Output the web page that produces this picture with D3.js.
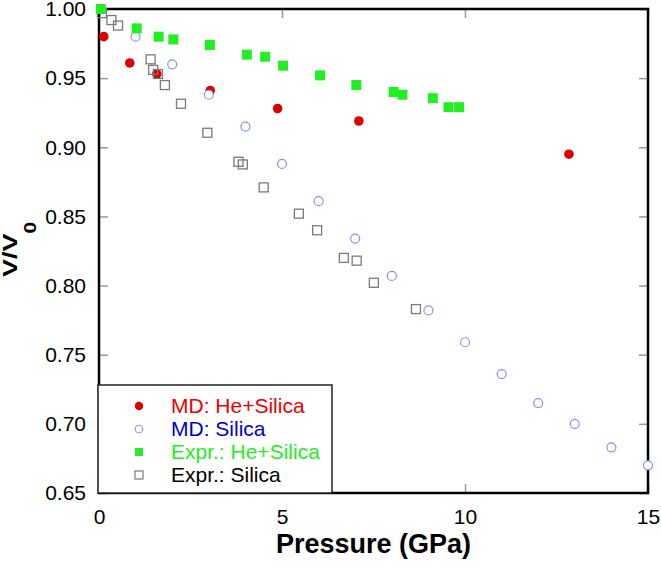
<!DOCTYPE html>
<html>
<head>
<meta charset="utf-8">
<script src="https://cdn.jsdelivr.net/npm/d3@7"></script>
<style>
  body { margin: 0; background: #fff; }
  text { font-family: "Liberation Sans", Arial, sans-serif; }
</style>
</head>
<body>
<div id="chart"></div>
<script>
// MD: He+Silica
var mdHePressure = [0.13, 0.84, 1.58, 3.04, 4.88, 7.10, 12.84];
var mdHeVolume   = [0.980, 0.961, 0.953, 0.941, 0.928, 0.919, 0.895];

// MD: Silica
var mdSiPressure = [1, 2, 3, 4, 5, 6, 7, 8, 9, 10, 11, 12, 13, 14, 15];
var mdSiVolume   = [0.980, 0.960, 0.938, 0.915, 0.888, 0.861, 0.834, 0.807, 0.782, 0.759, 0.736, 0.715, 0.700, 0.683, 0.670];

// Expr.: He+Silica
var exHePressure = [0.05, 1.03, 1.63, 2.03, 3.03, 4.04, 4.54, 5.03, 6.04, 7.03, 8.05, 8.29, 9.12, 9.55, 9.84];
var exHeVolume   = [1.000, 0.986, 0.980, 0.978, 0.974, 0.967, 0.9655, 0.959, 0.952, 0.945, 0.940, 0.938, 0.9355, 0.929, 0.929];

// Expr.: Silica
var exSiPressure = [0.08, 0.34, 0.52, 1.41, 1.48, 1.61, 1.80, 2.24, 2.96, 3.81, 3.93, 4.50, 5.46, 5.96, 6.69, 7.04, 7.51, 8.66];
var exSiVolume   = [0.997, 0.992, 0.988, 0.9636, 0.956, 0.953, 0.945, 0.9315, 0.9105, 0.8895, 0.8876, 0.871, 0.852, 0.840, 0.820, 0.818, 0.802, 0.783];

var xTicks = [0, 5, 10, 15];
var yTicks = [0.65, 0.70, 0.75, 0.80, 0.85, 0.90, 0.95, 1.00];

var legendLabels = ["MD: He+Silica", "MD: Silica", "Expr.: He+Silica", "Expr.: Silica"];

(function(){

  var width = 661,
      height = 570,
      margin = {top: 9, right: 13, bottom: 77, left: 99},
      chartWidth = width - margin.left - margin.right,
      chartHeight = height - margin.top - margin.bottom;

  function pairs(px, vy) {
    return px.map(function(p, i) { return {x: p, y: vy[i]}; });
  }

  var svg = d3.select("#chart").append("svg")
      .attr("width", width)
      .attr("height", height);

  var chart = svg.append("g")
      .attr("transform", "translate(" + margin.left + "," + margin.top + ")");

  var x = d3.scaleLinear().domain([0, 15]).range([0, chartWidth]);
  var y = d3.scaleLinear().domain([0.65, 1.0]).range([chartHeight, 0]);

  var fmt = d3.format(".2f");

  // inward ticks on all four sides
  chart.append("g")
      .attr("class", "axis")
      .call(d3.axisLeft(y).tickValues(yTicks).tickFormat(fmt).tickSize(-9).tickPadding(13));

  chart.append("g")
      .attr("class", "axis")
      .attr("transform", "translate(" + chartWidth + ",0)")
      .call(d3.axisRight(y).tickValues(yTicks).tickFormat("").tickSize(-9));

  chart.append("g")
      .attr("class", "axis")
      .attr("transform", "translate(0," + chartHeight + ")")
      .call(d3.axisBottom(x).tickValues(xTicks).tickFormat(d3.format("d")).tickSize(-9).tickPadding(16));

  chart.append("g")
      .attr("class", "axis")
      .call(d3.axisTop(x).tickValues(xTicks).tickFormat("").tickSize(-9));

  chart.selectAll(".axis .domain").remove();
  chart.selectAll(".axis line").attr("stroke", "#999").attr("stroke-width", 1.5);
  chart.selectAll(".axis text")
      .attr("fill", "#000")
      .style("font-size", "21px")
      .style("font-family", "'Liberation Sans', Arial, sans-serif");

  // frame
  chart.append("rect")
      .attr("width", chartWidth)
      .attr("height", chartHeight)
      .attr("fill", "none")
      .attr("stroke", "#000")
      .attr("stroke-width", 2.5);

  // points
  chart.selectAll("circle.mdHe")
      .data(pairs(mdHePressure, mdHeVolume))
      .enter().append("circle")
      .attr("class", "mdHe")
      .attr("cx", function(d) { return x(d.x); })
      .attr("cy", function(d) { return y(d.y); })
      .attr("r", 4.8)
      .attr("fill", "#dd0000");

  chart.selectAll("circle.mdSi")
      .data(pairs(mdSiPressure, mdSiVolume))
      .enter().append("circle")
      .attr("class", "mdSi")
      .attr("cx", function(d) { return x(d.x); })
      .attr("cy", function(d) { return y(d.y); })
      .attr("r", 4.5)
      .attr("fill", "#fff")
      .attr("stroke", "#8c8cff")
      .attr("stroke-width", 1.2);

  var sq = 9;

  chart.selectAll("rect.exSi")
      .data(pairs(exSiPressure, exSiVolume))
      .enter().append("rect")
      .attr("class", "exSi")
      .attr("x", function(d) { return x(d.x) - sq / 2; })
      .attr("y", function(d) { return y(d.y) - sq / 2; })
      .attr("width", sq)
      .attr("height", sq)
      .attr("fill", "none")
      .attr("stroke", "#7a7a7a")
      .attr("stroke-width", 1.3);

  chart.selectAll("rect.exHe")
      .data(pairs(exHePressure, exHeVolume))
      .enter().append("rect")
      .attr("class", "exHe")
      .attr("x", function(d) { return x(d.x) - 5; })
      .attr("y", function(d) { return y(d.y) - 5; })
      .attr("width", 10)
      .attr("height", 10)
      .attr("fill", "#22ee22");

  // legend
  var legend = svg.append("g").attr("transform", "translate(98,385)");

  legend.append("rect")
      .attr("width", 234)
      .attr("height", 108)
      .attr("fill", "#fff")
      .attr("stroke", "#222")
      .attr("stroke-width", 1.5);

  var rowY = [21, 44, 67, 90],
      textColors = ["#ee0000", "#0000cc", "#22ee22", "#000"];

  legend.append("circle").attr("cx", 41).attr("cy", rowY[0]).attr("r", 4.2).attr("fill", "#dd0000");
  legend.append("circle").attr("cx", 41).attr("cy", rowY[1]).attr("r", 3.8)
      .attr("fill", "#fff").attr("stroke", "#8c8cff").attr("stroke-width", 1.1);
  legend.append("rect").attr("x", 37).attr("y", rowY[2] - 4).attr("width", 8).attr("height", 8).attr("fill", "#22ee22");
  legend.append("rect").attr("x", 37).attr("y", rowY[3] - 4).attr("width", 8).attr("height", 8)
      .attr("fill", "none").attr("stroke", "#7a7a7a").attr("stroke-width", 1.2);

  legend.selectAll("text")
      .data(legendLabels)
      .enter().append("text")
      .attr("x", 73)
      .attr("y", function(d, i) { return rowY[i] + 7; })
      .attr("fill", function(d, i) { return textColors[i]; })
      .style("font-size", "21px")
      .text(function(d) { return d; });

  // axis titles
  svg.append("text")
      .attr("x", margin.left + chartWidth / 2)
      .attr("y", 553)
      .attr("text-anchor", "middle")
      .style("font-size", "27px")
      .style("font-weight", "bold")
      .text("Pressure (GPa)");

  var yLabel = svg.append("text")
      .attr("transform", "translate(17,277) rotate(-90) scale(1,0.78)")
      .style("font-size", "27px")
      .style("font-weight", "bold");
  yLabel.append("tspan").text("V/V");
  yLabel.append("tspan").attr("dy", 24).style("font-size", "21px").text("0");

})();
</script>
</body>
</html>
